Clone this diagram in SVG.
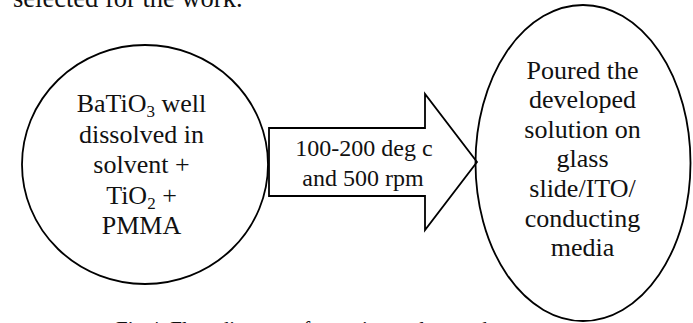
<svg xmlns="http://www.w3.org/2000/svg" width="693" height="323" viewBox="0 0 693 323">
  <style>
    .shape { fill: none; stroke: #000; stroke-width: 1.8; }
    .body { fill: #fff; stroke: #000; stroke-width: 1.8; stroke-linejoin: miter; }
    text { font-family: "Liberation Serif", "Times New Roman", serif; fill: #111; }
    .lbl { font-size: 26px; text-anchor: middle; }
    .arr { font-size: 24px; text-anchor: middle; }
    .sub { font-size: 17px; }
  </style>
  <rect width="693" height="323" fill="#fff"/>

  <!-- running text above and caption below (partly cut by the frame) -->
  <text x="13" y="7" style="font-size:26.5px">selected for the work.</text>
  <text x="116" y="335.5" style="font-size:21px">Fig.4. Flow diagram of experimental procedure</text>

  <!-- connector: block arrow carrying the process conditions -->
  <g id="connectors">
    <path class="body" d="M269,128 L425,128 L425,94 L477,162 L425,230 L425,196 L269,196 Z"/>
    <text class="arr" x="364" y="156">100-200 deg c</text>
    <text class="arr" x="363" y="186">and 500 rpm</text>
  </g>

  <!-- step 1: solution preparation -->
  <g id="node-solution">
    <ellipse class="shape" cx="145" cy="164.5" rx="123" ry="119.5"/>
    <text class="lbl" x="141.5" y="112">BaTiO<tspan class="sub" dy="5">3</tspan><tspan dy="-5"> well</tspan></text>
    <text class="lbl" x="141.5" y="142.5">dissolved in</text>
    <text class="lbl" x="141.5" y="173">solvent +</text>
    <text class="lbl" x="141.5" y="203.5">TiO<tspan class="sub" dy="5">2</tspan><tspan dy="-5"> +</tspan></text>
    <text class="lbl" x="141.5" y="234">PMMA</text>
  </g>

  <!-- step 2: casting on substrate -->
  <g id="node-casting">
    <ellipse class="shape" cx="583" cy="163" rx="107.5" ry="158"/>
    <text class="lbl" x="582.5" y="79">Poured the</text>
    <text class="lbl" x="582.5" y="108">developed</text>
    <text class="lbl" x="582.5" y="137.5">solution on</text>
    <text class="lbl" x="582.5" y="167">glass</text>
    <text class="lbl" x="582.5" y="196.5">slide/ITO/</text>
    <text class="lbl" x="582.5" y="226.5">conducting</text>
    <text class="lbl" x="582.5" y="256">media</text>
  </g>
</svg>
